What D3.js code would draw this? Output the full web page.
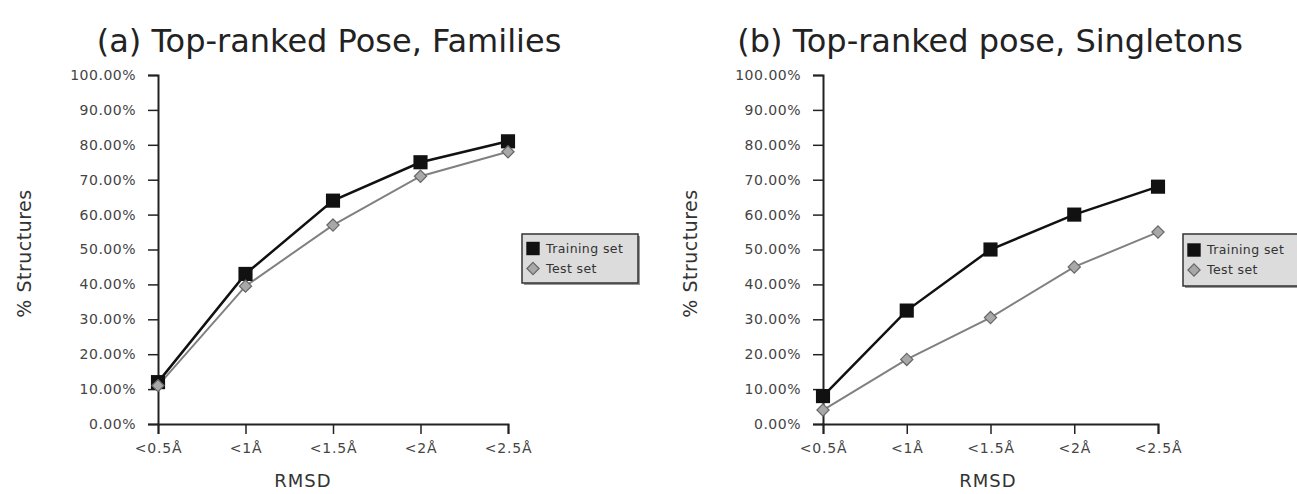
<!DOCTYPE html>
<html>
<head>
<meta charset="utf-8">
<script src="https://cdn.jsdelivr.net/npm/d3@7"></script>
<style>
    body { margin: 0; background: #fff; }
    svg { display: block; font-family: "DejaVu Sans", sans-serif; }
</style>
</head>
<body>
<svg id="root" width="1297" height="494"></svg>
<script>
const categories = ["<0.5Å", "<1Å", "<1.5Å", "<2Å", "<2.5Å"];
const yTicks = [0, 10, 20, 30, 40, 50, 60, 70, 80, 90, 100];
const seriesNames = ["Training set", "Test set"];

const familiesTraining = [12, 43, 64, 75, 81];
const familiesTest = [11, 39.5, 57, 71, 78];
const singletonsTraining = [8, 32.5, 50, 60, 68];
const singletonsTest = [4, 18.5, 30.5, 45, 55];

const svg = d3.select("#root");

const panels = [
    {
        title: "(a) Top-ranked Pose, Families",
        training: familiesTraining,
        test: familiesTest,
        x0: 158, x1: 508,
        titleX: 329, rmsdX: 303, yLabelX: 24,
        legend: { x: 522, y: 234, w: 116, h: 49 },
    },
    {
        title: "(b) Top-ranked pose, Singletons",
        training: singletonsTraining,
        test: singletonsTest,
        x0: 823, x1: 1158,
        titleX: 990, rmsdX: 988, yLabelX: 690,
        legend: { x: 1183, y: 234, w: 125, h: 52 },
    },
];

const plotTop = 75;
const plotBottom = 424;

const square = d3.symbol().type(d3.symbolSquare).size(200);
const diamond = d3.symbol().type(d3.symbolDiamond2).size(95);

panels.forEach((p) => {
    const g = svg.append("g");

    const xScale = d3.scalePoint().domain(categories).range([p.x0, p.x1]);
    const yScale = d3.scaleLinear().domain([0, 100]).range([plotBottom, plotTop]);

    // title
    g.append("text")
        .attr("x", p.titleX)
        .attr("y", 52)
        .attr("text-anchor", "middle")
        .style("font-size", "32px")
        .style("fill", "#222")
        .text(p.title);

    // y axis
    g.append("g")
        .attr("transform", `translate(${p.x0},0)`)
        .call(
            d3.axisLeft(yScale)
                .tickValues(yTicks)
                .tickFormat((d) => d.toFixed(2) + "%")
                .tickSize(10)
                .tickPadding(12)
        )
        .call((a) => a.select(".domain").attr("stroke", "#222").attr("stroke-width", 2))
        .call((a) => a.selectAll(".tick line").attr("stroke", "#222").attr("stroke-width", 1.5))
        .call((a) =>
            a.selectAll("text")
                .style("font-size", "14px")
                .style("letter-spacing", "0.5px")
                .style("fill", "#444")
                .style("font-family", "DejaVu Sans")
        );

    // x axis
    g.append("g")
        .attr("transform", `translate(0,${plotBottom})`)
        .call(d3.axisBottom(xScale).tickSize(10).tickPadding(9))
        .call((a) => a.select(".domain").attr("stroke", "#222").attr("stroke-width", 2))
        .call((a) => a.selectAll(".tick line").attr("stroke", "#222").attr("stroke-width", 1.5))
        .call((a) =>
            a.selectAll("text")
                .style("font-size", "14px")
                .style("letter-spacing", "0.8px")
                .style("fill", "#444")
                .style("font-family", "DejaVu Sans")
        );

    // axis titles
    g.append("text")
        .attr("x", p.rmsdX)
        .attr("y", 487)
        .attr("text-anchor", "middle")
        .style("font-size", "18px")
        .style("letter-spacing", "1px")
        .style("fill", "#333")
        .text("RMSD");

    g.append("text")
        .attr("transform", `translate(${p.yLabelX},${(plotTop + plotBottom) / 2 + 4}) rotate(-90)`)
        .attr("dy", "0.35em")
        .attr("text-anchor", "middle")
        .style("font-size", "19px")
        .style("letter-spacing", "0.5px")
        .style("fill", "#333")
        .text("% Structures");

    const line = d3.line()
        .x((d, i) => xScale(categories[i]))
        .y((d) => yScale(d));

    // test set (grey diamonds)
    g.append("path")
        .datum(p.test)
        .attr("d", line)
        .attr("fill", "none")
        .attr("stroke", "#808080")
        .attr("stroke-width", 2);

    // training set (black squares)
    g.append("path")
        .datum(p.training)
        .attr("d", line)
        .attr("fill", "none")
        .attr("stroke", "#111")
        .attr("stroke-width", 2.5);

    g.selectAll(".train-pt")
        .data(p.training)
        .join("path")
        .attr("class", "train-pt")
        .attr("transform", (d, i) => `translate(${xScale(categories[i])},${yScale(d)})`)
        .attr("d", square)
        .attr("fill", "#111");

    g.selectAll(".test-pt")
        .data(p.test)
        .join("path")
        .attr("class", "test-pt")
        .attr("transform", (d, i) => `translate(${xScale(categories[i])},${yScale(d)})`)
        .attr("d", diamond)
        .attr("fill", "#a8a8a8")
        .attr("stroke", "#666")
        .attr("stroke-width", 1.2);

    // legend
    const lg = g.append("g").attr("transform", `translate(${p.legend.x},${p.legend.y})`);
    lg.append("rect")
        .attr("x", 2).attr("y", 2)
        .attr("width", p.legend.w).attr("height", p.legend.h)
        .attr("fill", "#999");
    lg.append("rect")
        .attr("width", p.legend.w).attr("height", p.legend.h)
        .attr("fill", "#dcdcdc")
        .attr("stroke", "#333")
        .attr("stroke-width", 1.5);

    seriesNames.forEach((name, i) => {
        const cy = p.legend.h / 2 + (i === 0 ? -10 : 10);
        lg.append("path")
            .attr("transform", `translate(11,${cy})`)
            .attr("d", i === 0 ? d3.symbol().type(d3.symbolSquare).size(180)() : diamond)
            .attr("fill", i === 0 ? "#111" : "#a8a8a8")
            .attr("stroke", i === 0 ? "none" : "#666")
            .attr("stroke-width", 1.2);
        lg.append("text")
            .attr("x", 24)
            .attr("y", cy)
            .attr("dy", "0.35em")
            .style("font-size", "12.5px")
            .style("letter-spacing", "0.4px")
            .style("fill", "#333")
            .text(name);
    });
});
</script>
</body>
</html>
